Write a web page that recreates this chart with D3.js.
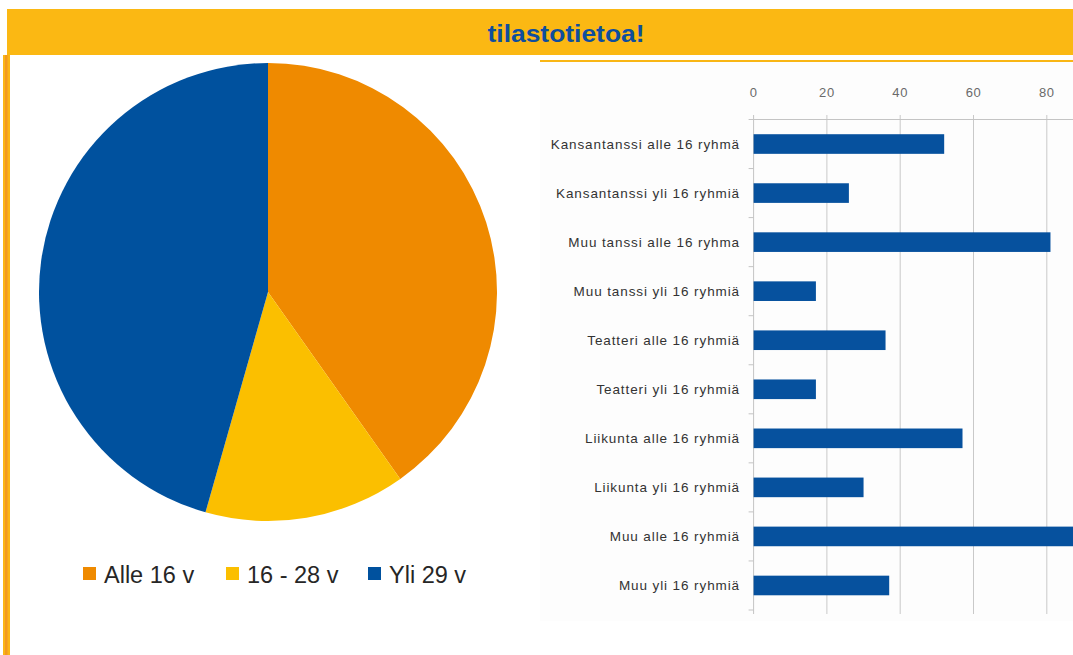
<!DOCTYPE html>
<html><head><meta charset="utf-8">
<script src="https://cdn.jsdelivr.net/npm/d3@7"></script>
<style>html,body{margin:0;padding:0;background:#fff;}svg{display:block;}</style>
</head><body>
<svg id="c" width="1073" height="655"></svg>
<script>
const title = "tilastotietoa!";
const pieLabels = ["Alle 16 v", "16 - 28 v", "Yli 29 v"];
const pieValues = [40.2, 14.2, 45.6];
const pieColors = ["#EF8A00", "#FBBF00", "#00519E"];

const barCategories = ["Kansantanssi alle 16 ryhmä", "Kansantanssi yli 16 ryhmiä", "Muu tanssi alle 16 ryhma",
  "Muu tanssi yli 16 ryhmiä", "Teatteri alle 16 ryhmiä", "Teatteri yli 16 ryhmiä",
  "Liikunta alle 16 ryhmiä", "Liikunta yli 16 ryhmiä", "Muu alle 16 ryhmiä", "Muu yli 16 ryhmiä"];
const barValues = [52, 26, 81, 17, 36, 17, 57, 30, 95, 37];
const xTicks = [0, 20, 40, 60, 80];

const svg = d3.select("#c");
svg.append("rect").attr("width", 1073).attr("height", 655).attr("fill", "#fff");

// header
svg.append("rect").attr("x", 7).attr("y", 9).attr("width", 1066).attr("height", 46).attr("fill", "#FBB813");
svg.append("text").attr("x", 566).attr("y", 33).attr("text-anchor", "middle").attr("dominant-baseline", "central")
  .attr("font-family", "Liberation Sans, Arial, sans-serif").attr("font-weight", "bold").attr("font-size", 24)
  .attr("textLength", 157).attr("lengthAdjust", "spacingAndGlyphs")
  .attr("fill", "#0E4E9E").text(title);
// left stripe
svg.append("rect").attr("x", 3).attr("y", 55).attr("width", 7).attr("height", 600).attr("fill", "#FBB515");
svg.append("rect").attr("x", 5).attr("y", 55).attr("width", 2.5).attr("height", 600).attr("fill", "#F29A1E");

// bar chart background and top line
svg.append("rect").attr("x", 540).attr("y", 62).attr("width", 533).attr("height", 559).attr("fill", "#fdfdfd");
svg.append("line").attr("x1", 540).attr("x2", 1073).attr("y1", 61).attr("y2", 61).attr("stroke", "#F9B615").attr("stroke-width", 2);

// pie
const cx = 268, cy = 292, R = 229;
const pie = d3.pie().sort(null).value(d => d);
const arc = d3.arc().innerRadius(0).outerRadius(R);
const pg = svg.append("g").attr("transform", `translate(${cx},${cy})`);
pg.selectAll("path").data(pie(pieValues)).enter().append("path")
  .attr("d", arc).attr("fill", (d, i) => pieColors[i]);

// legend
const legX = [83, 226, 368];
const lg = svg.append("g");
pieLabels.forEach((lab, i) => {
  lg.append("rect").attr("x", legX[i]).attr("y", 567).attr("width", 13).attr("height", 13).attr("fill", pieColors[i]);
  lg.append("text").attr("x", legX[i] + 21).attr("y", 583).attr("font-family", "Liberation Sans, Arial, sans-serif")
    .attr("font-size", 23.5).attr("fill", "#262626").text(lab);
});

// bar chart
const x = d3.scaleLinear().domain([0, 80]).range([753.6, 1046.8]);
const xEnd = 1073;
const y = d3.scaleBand().domain(barCategories).range([119.5, 610]).paddingInner(0.6).paddingOuter(0.3);
const bg = svg.append("g");
// gridlines
bg.selectAll("line.grid").data(xTicks.slice(1)).enter().append("line")
  .attr("x1", d => x(d)).attr("x2", d => x(d)).attr("y1", 115).attr("y2", 614)
  .attr("stroke", "#c9c9c9").attr("stroke-width", 1);
// top axis line
bg.append("line").attr("x1", x(0)).attr("x2", xEnd).attr("y1", 119.5).attr("y2", 119.5).attr("stroke", "#c4c4c4");
bg.append("line").attr("x1", x(0)).attr("x2", x(0)).attr("y1", 115).attr("y2", 614).attr("stroke", "#c4c4c4");
// left tick marks at band boundaries
const step = y.step();
d3.range(barCategories.length + 1).forEach(i => {
  const yy = 119.5 + i * step;
  bg.append("line").attr("x1", x(0) - 5).attr("x2", x(0)).attr("y1", yy).attr("y2", yy).attr("stroke", "#c4c4c4");
});
// tick labels
bg.selectAll("text.xt").data(xTicks).enter().append("text")
  .attr("x", d => x(d)).attr("y", 92).attr("text-anchor", "middle").attr("dominant-baseline", "central")
  .attr("font-family", "Liberation Sans, Arial, sans-serif").attr("font-size", 13).attr("letter-spacing", 0.6)
  .attr("fill", "#6a6a6a").text(d => d);
// bars
bg.selectAll("rect.bar").data(barValues).enter().append("rect")
  .attr("x", x(0)).attr("y", (d, i) => y(barCategories[i]))
  .attr("width", d => x(d) - x(0)).attr("height", y.bandwidth()).attr("fill", "#06519E");
// category labels
bg.selectAll("text.cat").data(barCategories).enter().append("text")
  .attr("x", 740).attr("y", d => y(d) + y.bandwidth() / 2).attr("text-anchor", "end").attr("dominant-baseline", "central")
  .attr("font-family", "Liberation Sans, Arial, sans-serif").attr("font-size", 13.5).attr("letter-spacing", 0.9)
  .attr("fill", "#333").text(d => d);
</script>
</body></html>
